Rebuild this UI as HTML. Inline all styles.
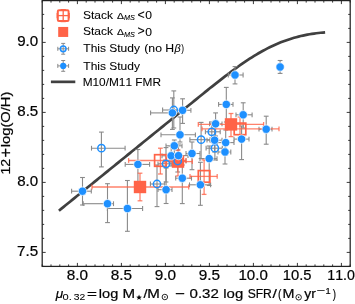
<!DOCTYPE html>
<html><head><meta charset="utf-8"><style>
html,body{margin:0;padding:0;background:#fff;overflow:hidden;}
svg{display:block;will-change:transform;font-family:"Liberation Sans",sans-serif;}
text{font-kerning:none;stroke:#000;stroke-width:0.22px;}
.lg text{stroke-width:0.08px;}
</style></head><body>
<svg width="355" height="304" viewBox="0 0 355 304" font-family="Liberation Sans, sans-serif">
<rect width="355" height="304" fill="#fff"/>
<polyline points="58.92,210.69 61.14,208.89 63.36,207.09 65.57,205.29 67.79,203.49 70.01,201.69 72.23,199.89 74.45,198.09 76.67,196.30 78.89,194.50 81.10,192.70 83.32,190.90 85.54,189.10 87.76,187.30 89.98,185.50 92.19,183.70 94.41,181.90 96.63,180.10 98.85,178.30 101.07,176.50 103.29,174.70 105.51,172.90 107.72,171.10 109.94,169.30 112.16,167.50 114.38,165.70 116.60,163.90 118.82,162.10 121.03,160.30 123.25,158.50 125.47,156.70 127.69,154.90 129.91,153.10 132.12,151.30 134.34,149.50 136.56,147.70 138.78,145.90 141.00,144.10 143.22,142.30 145.44,140.50 147.65,138.70 149.87,136.90 152.09,135.10 154.31,133.30 156.53,131.50 158.74,129.70 160.96,127.90 163.18,126.10 165.40,124.30 167.62,122.50 169.84,120.70 172.06,118.90 174.27,117.10 176.49,115.30 178.71,113.50 180.93,111.70 183.15,109.90 185.36,108.10 187.58,106.30 189.80,104.50 192.02,102.70 194.24,100.90 196.46,99.10 198.68,97.30 200.89,95.50 203.11,93.70 205.33,91.90 207.55,90.10 209.77,88.31 211.98,86.57 214.20,84.83 216.42,83.10 218.64,81.37 220.86,79.63 223.08,77.89 225.29,76.18 227.51,74.47 229.73,72.79 231.95,71.12 234.17,69.47 236.39,67.85 238.61,66.26 240.82,64.69 243.04,63.15 245.26,61.63 247.48,60.15 249.70,58.71 251.92,57.29 254.13,55.91 256.35,54.57 258.57,53.26 260.79,51.99 263.01,50.76 265.23,49.57 267.44,48.42 269.66,47.31 271.88,46.24 274.10,45.21 276.32,44.22 278.53,43.28 280.75,42.37 282.97,41.51 285.19,40.69 287.41,39.90 289.63,39.16 291.85,38.46 294.06,37.80 296.28,37.18 298.50,36.60 300.72,36.06 302.94,35.56 305.15,35.09 307.37,34.66 309.59,34.27 311.81,33.91 314.03,33.58 316.25,33.28 318.47,33.02 320.68,32.78 322.90,32.57 325.12,32.38" fill="none" stroke="#404040" stroke-width="2.7" stroke-linecap="butt" stroke-linejoin="round"/>
<g>
<line x1="71.6" y1="191.2" x2="91.3" y2="191.2" stroke="#8a8a8a" stroke-width="1.1" stroke-opacity="1.0"/>
<line x1="82.5" y1="177.5" x2="82.5" y2="205.0" stroke="#8a8a8a" stroke-width="1.1" stroke-opacity="1.0"/>
<line x1="71.6" y1="188.79999999999998" x2="71.6" y2="193.6" stroke="#8a8a8a" stroke-width="1.1" stroke-opacity="1.0"/>
<line x1="91.3" y1="188.79999999999998" x2="91.3" y2="193.6" stroke="#8a8a8a" stroke-width="1.1" stroke-opacity="1.0"/>
<line x1="80.1" y1="177.5" x2="84.9" y2="177.5" stroke="#8a8a8a" stroke-width="1.1" stroke-opacity="1.0"/>
<line x1="80.1" y1="205.0" x2="84.9" y2="205.0" stroke="#8a8a8a" stroke-width="1.1" stroke-opacity="1.0"/>
<line x1="83.2" y1="203.7" x2="113.5" y2="203.7" stroke="#8a8a8a" stroke-width="1.1" stroke-opacity="1.0"/>
<line x1="107.5" y1="183.7" x2="107.5" y2="222.6" stroke="#8a8a8a" stroke-width="1.1" stroke-opacity="1.0"/>
<line x1="83.2" y1="201.29999999999998" x2="83.2" y2="206.1" stroke="#8a8a8a" stroke-width="1.1" stroke-opacity="1.0"/>
<line x1="113.5" y1="201.29999999999998" x2="113.5" y2="206.1" stroke="#8a8a8a" stroke-width="1.1" stroke-opacity="1.0"/>
<line x1="105.1" y1="183.7" x2="109.9" y2="183.7" stroke="#8a8a8a" stroke-width="1.1" stroke-opacity="1.0"/>
<line x1="105.1" y1="222.6" x2="109.9" y2="222.6" stroke="#8a8a8a" stroke-width="1.1" stroke-opacity="1.0"/>
<line x1="107.4" y1="208.5" x2="142.6" y2="208.5" stroke="#8a8a8a" stroke-width="1.1" stroke-opacity="1.0"/>
<line x1="127.4" y1="180.5" x2="127.4" y2="231.3" stroke="#8a8a8a" stroke-width="1.1" stroke-opacity="1.0"/>
<line x1="107.4" y1="206.1" x2="107.4" y2="210.9" stroke="#8a8a8a" stroke-width="1.1" stroke-opacity="1.0"/>
<line x1="142.6" y1="206.1" x2="142.6" y2="210.9" stroke="#8a8a8a" stroke-width="1.1" stroke-opacity="1.0"/>
<line x1="125.0" y1="180.5" x2="129.8" y2="180.5" stroke="#8a8a8a" stroke-width="1.1" stroke-opacity="1.0"/>
<line x1="125.0" y1="231.3" x2="129.8" y2="231.3" stroke="#8a8a8a" stroke-width="1.1" stroke-opacity="1.0"/>
<line x1="125.2" y1="164.4" x2="149.6" y2="164.4" stroke="#8a8a8a" stroke-width="1.1" stroke-opacity="1.0"/>
<line x1="137.9" y1="149.5" x2="137.9" y2="186.0" stroke="#8a8a8a" stroke-width="1.1" stroke-opacity="1.0"/>
<line x1="125.2" y1="162.0" x2="125.2" y2="166.8" stroke="#8a8a8a" stroke-width="1.1" stroke-opacity="1.0"/>
<line x1="149.6" y1="162.0" x2="149.6" y2="166.8" stroke="#8a8a8a" stroke-width="1.1" stroke-opacity="1.0"/>
<line x1="135.5" y1="149.5" x2="140.3" y2="149.5" stroke="#8a8a8a" stroke-width="1.1" stroke-opacity="1.0"/>
<line x1="135.5" y1="186.0" x2="140.3" y2="186.0" stroke="#8a8a8a" stroke-width="1.1" stroke-opacity="1.0"/>
<line x1="158.0" y1="189.7" x2="172.0" y2="189.7" stroke="#8a8a8a" stroke-width="1.1" stroke-opacity="1.0"/>
<line x1="166.1" y1="168.0" x2="166.1" y2="203.5" stroke="#8a8a8a" stroke-width="1.1" stroke-opacity="1.0"/>
<line x1="158.0" y1="187.29999999999998" x2="158.0" y2="192.1" stroke="#8a8a8a" stroke-width="1.1" stroke-opacity="1.0"/>
<line x1="172.0" y1="187.29999999999998" x2="172.0" y2="192.1" stroke="#8a8a8a" stroke-width="1.1" stroke-opacity="1.0"/>
<line x1="163.7" y1="168.0" x2="168.5" y2="168.0" stroke="#8a8a8a" stroke-width="1.1" stroke-opacity="1.0"/>
<line x1="163.7" y1="203.5" x2="168.5" y2="203.5" stroke="#8a8a8a" stroke-width="1.1" stroke-opacity="1.0"/>
<line x1="166.0" y1="145.8" x2="182.0" y2="145.8" stroke="#8a8a8a" stroke-width="1.1" stroke-opacity="1.0"/>
<line x1="174.3" y1="140.0" x2="174.3" y2="158.0" stroke="#8a8a8a" stroke-width="1.1" stroke-opacity="1.0"/>
<line x1="166.0" y1="143.4" x2="166.0" y2="148.20000000000002" stroke="#8a8a8a" stroke-width="1.1" stroke-opacity="1.0"/>
<line x1="182.0" y1="143.4" x2="182.0" y2="148.20000000000002" stroke="#8a8a8a" stroke-width="1.1" stroke-opacity="1.0"/>
<line x1="171.9" y1="140.0" x2="176.70000000000002" y2="140.0" stroke="#8a8a8a" stroke-width="1.1" stroke-opacity="1.0"/>
<line x1="171.9" y1="158.0" x2="176.70000000000002" y2="158.0" stroke="#8a8a8a" stroke-width="1.1" stroke-opacity="1.0"/>
<line x1="162.0" y1="155.8" x2="180.0" y2="155.8" stroke="#8a8a8a" stroke-width="1.1" stroke-opacity="1.0"/>
<line x1="171.2" y1="146.0" x2="171.2" y2="166.0" stroke="#8a8a8a" stroke-width="1.1" stroke-opacity="1.0"/>
<line x1="162.0" y1="153.4" x2="162.0" y2="158.20000000000002" stroke="#8a8a8a" stroke-width="1.1" stroke-opacity="1.0"/>
<line x1="180.0" y1="153.4" x2="180.0" y2="158.20000000000002" stroke="#8a8a8a" stroke-width="1.1" stroke-opacity="1.0"/>
<line x1="168.79999999999998" y1="146.0" x2="173.6" y2="146.0" stroke="#8a8a8a" stroke-width="1.1" stroke-opacity="1.0"/>
<line x1="168.79999999999998" y1="166.0" x2="173.6" y2="166.0" stroke="#8a8a8a" stroke-width="1.1" stroke-opacity="1.0"/>
<line x1="170.0" y1="155.6" x2="188.0" y2="155.6" stroke="#8a8a8a" stroke-width="1.1" stroke-opacity="1.0"/>
<line x1="178.5" y1="144.0" x2="178.5" y2="166.0" stroke="#8a8a8a" stroke-width="1.1" stroke-opacity="1.0"/>
<line x1="170.0" y1="153.2" x2="170.0" y2="158.0" stroke="#8a8a8a" stroke-width="1.1" stroke-opacity="1.0"/>
<line x1="188.0" y1="153.2" x2="188.0" y2="158.0" stroke="#8a8a8a" stroke-width="1.1" stroke-opacity="1.0"/>
<line x1="176.1" y1="144.0" x2="180.9" y2="144.0" stroke="#8a8a8a" stroke-width="1.1" stroke-opacity="1.0"/>
<line x1="176.1" y1="166.0" x2="180.9" y2="166.0" stroke="#8a8a8a" stroke-width="1.1" stroke-opacity="1.0"/>
<line x1="175.7" y1="178.2" x2="191.5" y2="178.2" stroke="#8a8a8a" stroke-width="1.1" stroke-opacity="1.0"/>
<line x1="182.3" y1="165.0" x2="182.3" y2="203.6" stroke="#8a8a8a" stroke-width="1.1" stroke-opacity="1.0"/>
<line x1="175.7" y1="175.79999999999998" x2="175.7" y2="180.6" stroke="#8a8a8a" stroke-width="1.1" stroke-opacity="1.0"/>
<line x1="191.5" y1="175.79999999999998" x2="191.5" y2="180.6" stroke="#8a8a8a" stroke-width="1.1" stroke-opacity="1.0"/>
<line x1="179.9" y1="165.0" x2="184.70000000000002" y2="165.0" stroke="#8a8a8a" stroke-width="1.1" stroke-opacity="1.0"/>
<line x1="179.9" y1="203.6" x2="184.70000000000002" y2="203.6" stroke="#8a8a8a" stroke-width="1.1" stroke-opacity="1.0"/>
<line x1="150.6" y1="112.9" x2="182.0" y2="112.9" stroke="#8a8a8a" stroke-width="1.1" stroke-opacity="1.0"/>
<line x1="172.4" y1="97.9" x2="172.4" y2="129.4" stroke="#8a8a8a" stroke-width="1.1" stroke-opacity="1.0"/>
<line x1="150.6" y1="110.5" x2="150.6" y2="115.30000000000001" stroke="#8a8a8a" stroke-width="1.1" stroke-opacity="1.0"/>
<line x1="182.0" y1="110.5" x2="182.0" y2="115.30000000000001" stroke="#8a8a8a" stroke-width="1.1" stroke-opacity="1.0"/>
<line x1="170.0" y1="97.9" x2="174.8" y2="97.9" stroke="#8a8a8a" stroke-width="1.1" stroke-opacity="1.0"/>
<line x1="170.0" y1="129.4" x2="174.8" y2="129.4" stroke="#8a8a8a" stroke-width="1.1" stroke-opacity="1.0"/>
<line x1="174.0" y1="110.3" x2="190.9" y2="110.3" stroke="#8a8a8a" stroke-width="1.1" stroke-opacity="1.0"/>
<line x1="182.6" y1="98.8" x2="182.6" y2="123.4" stroke="#8a8a8a" stroke-width="1.1" stroke-opacity="1.0"/>
<line x1="174.0" y1="107.89999999999999" x2="174.0" y2="112.7" stroke="#8a8a8a" stroke-width="1.1" stroke-opacity="1.0"/>
<line x1="190.9" y1="107.89999999999999" x2="190.9" y2="112.7" stroke="#8a8a8a" stroke-width="1.1" stroke-opacity="1.0"/>
<line x1="180.2" y1="98.8" x2="185.0" y2="98.8" stroke="#8a8a8a" stroke-width="1.1" stroke-opacity="1.0"/>
<line x1="180.2" y1="123.4" x2="185.0" y2="123.4" stroke="#8a8a8a" stroke-width="1.1" stroke-opacity="1.0"/>
<line x1="161.0" y1="134.8" x2="195.4" y2="134.8" stroke="#8a8a8a" stroke-width="1.1" stroke-opacity="1.0"/>
<line x1="180.0" y1="117.0" x2="180.0" y2="142.0" stroke="#8a8a8a" stroke-width="1.1" stroke-opacity="1.0"/>
<line x1="161.0" y1="132.4" x2="161.0" y2="137.20000000000002" stroke="#8a8a8a" stroke-width="1.1" stroke-opacity="1.0"/>
<line x1="195.4" y1="132.4" x2="195.4" y2="137.20000000000002" stroke="#8a8a8a" stroke-width="1.1" stroke-opacity="1.0"/>
<line x1="177.6" y1="117.0" x2="182.4" y2="117.0" stroke="#8a8a8a" stroke-width="1.1" stroke-opacity="1.0"/>
<line x1="177.6" y1="142.0" x2="182.4" y2="142.0" stroke="#8a8a8a" stroke-width="1.1" stroke-opacity="1.0"/>
<line x1="218.6" y1="104.4" x2="233.0" y2="104.4" stroke="#8a8a8a" stroke-width="1.1" stroke-opacity="1.0"/>
<line x1="226.3" y1="87.4" x2="226.3" y2="122.0" stroke="#8a8a8a" stroke-width="1.1" stroke-opacity="1.0"/>
<line x1="218.6" y1="102.0" x2="218.6" y2="106.80000000000001" stroke="#8a8a8a" stroke-width="1.1" stroke-opacity="1.0"/>
<line x1="233.0" y1="102.0" x2="233.0" y2="106.80000000000001" stroke="#8a8a8a" stroke-width="1.1" stroke-opacity="1.0"/>
<line x1="223.9" y1="87.4" x2="228.70000000000002" y2="87.4" stroke="#8a8a8a" stroke-width="1.1" stroke-opacity="1.0"/>
<line x1="223.9" y1="122.0" x2="228.70000000000002" y2="122.0" stroke="#8a8a8a" stroke-width="1.1" stroke-opacity="1.0"/>
<line x1="209.6" y1="123.8" x2="222.0" y2="123.8" stroke="#8a8a8a" stroke-width="1.1" stroke-opacity="1.0"/>
<line x1="215.6" y1="112.9" x2="215.6" y2="136.0" stroke="#8a8a8a" stroke-width="1.1" stroke-opacity="1.0"/>
<line x1="209.6" y1="121.39999999999999" x2="209.6" y2="126.2" stroke="#8a8a8a" stroke-width="1.1" stroke-opacity="1.0"/>
<line x1="222.0" y1="121.39999999999999" x2="222.0" y2="126.2" stroke="#8a8a8a" stroke-width="1.1" stroke-opacity="1.0"/>
<line x1="213.2" y1="112.9" x2="218.0" y2="112.9" stroke="#8a8a8a" stroke-width="1.1" stroke-opacity="1.0"/>
<line x1="213.2" y1="136.0" x2="218.0" y2="136.0" stroke="#8a8a8a" stroke-width="1.1" stroke-opacity="1.0"/>
<line x1="228.3" y1="75.0" x2="243.1" y2="75.0" stroke="#8a8a8a" stroke-width="1.1" stroke-opacity="1.0"/>
<line x1="235.0" y1="66.6" x2="235.0" y2="83.9" stroke="#8a8a8a" stroke-width="1.1" stroke-opacity="1.0"/>
<line x1="228.3" y1="72.6" x2="228.3" y2="77.4" stroke="#8a8a8a" stroke-width="1.1" stroke-opacity="1.0"/>
<line x1="243.1" y1="72.6" x2="243.1" y2="77.4" stroke="#8a8a8a" stroke-width="1.1" stroke-opacity="1.0"/>
<line x1="232.6" y1="66.6" x2="237.4" y2="66.6" stroke="#8a8a8a" stroke-width="1.1" stroke-opacity="1.0"/>
<line x1="232.6" y1="83.9" x2="237.4" y2="83.9" stroke="#8a8a8a" stroke-width="1.1" stroke-opacity="1.0"/>
<line x1="278.0" y1="67.0" x2="282.0" y2="67.0" stroke="#8a8a8a" stroke-width="1.1" stroke-opacity="1.0"/>
<line x1="280.1" y1="60.5" x2="280.1" y2="73.4" stroke="#8a8a8a" stroke-width="1.1" stroke-opacity="1.0"/>
<line x1="278.0" y1="64.6" x2="278.0" y2="69.4" stroke="#8a8a8a" stroke-width="1.1" stroke-opacity="1.0"/>
<line x1="282.0" y1="64.6" x2="282.0" y2="69.4" stroke="#8a8a8a" stroke-width="1.1" stroke-opacity="1.0"/>
<line x1="277.70000000000005" y1="60.5" x2="282.5" y2="60.5" stroke="#8a8a8a" stroke-width="1.1" stroke-opacity="1.0"/>
<line x1="277.70000000000005" y1="73.4" x2="282.5" y2="73.4" stroke="#8a8a8a" stroke-width="1.1" stroke-opacity="1.0"/>
<line x1="186.0" y1="153.5" x2="200.0" y2="153.5" stroke="#8a8a8a" stroke-width="1.1" stroke-opacity="1.0"/>
<line x1="192.0" y1="142.0" x2="192.0" y2="169.7" stroke="#8a8a8a" stroke-width="1.1" stroke-opacity="1.0"/>
<line x1="186.0" y1="151.1" x2="186.0" y2="155.9" stroke="#8a8a8a" stroke-width="1.1" stroke-opacity="1.0"/>
<line x1="200.0" y1="151.1" x2="200.0" y2="155.9" stroke="#8a8a8a" stroke-width="1.1" stroke-opacity="1.0"/>
<line x1="189.6" y1="142.0" x2="194.4" y2="142.0" stroke="#8a8a8a" stroke-width="1.1" stroke-opacity="1.0"/>
<line x1="189.6" y1="169.7" x2="194.4" y2="169.7" stroke="#8a8a8a" stroke-width="1.1" stroke-opacity="1.0"/>
<line x1="200.0" y1="158.6" x2="217.0" y2="158.6" stroke="#8a8a8a" stroke-width="1.1" stroke-opacity="1.0"/>
<line x1="209.2" y1="146.0" x2="209.2" y2="185.5" stroke="#8a8a8a" stroke-width="1.1" stroke-opacity="1.0"/>
<line x1="200.0" y1="156.2" x2="200.0" y2="161.0" stroke="#8a8a8a" stroke-width="1.1" stroke-opacity="1.0"/>
<line x1="217.0" y1="156.2" x2="217.0" y2="161.0" stroke="#8a8a8a" stroke-width="1.1" stroke-opacity="1.0"/>
<line x1="206.79999999999998" y1="146.0" x2="211.6" y2="146.0" stroke="#8a8a8a" stroke-width="1.1" stroke-opacity="1.0"/>
<line x1="206.79999999999998" y1="185.5" x2="211.6" y2="185.5" stroke="#8a8a8a" stroke-width="1.1" stroke-opacity="1.0"/>
<line x1="207.0" y1="140.2" x2="222.0" y2="140.2" stroke="#8a8a8a" stroke-width="1.1" stroke-opacity="1.0"/>
<line x1="214.6" y1="128.0" x2="214.6" y2="152.0" stroke="#8a8a8a" stroke-width="1.1" stroke-opacity="1.0"/>
<line x1="207.0" y1="137.79999999999998" x2="207.0" y2="142.6" stroke="#8a8a8a" stroke-width="1.1" stroke-opacity="1.0"/>
<line x1="222.0" y1="137.79999999999998" x2="222.0" y2="142.6" stroke="#8a8a8a" stroke-width="1.1" stroke-opacity="1.0"/>
<line x1="212.2" y1="128.0" x2="217.0" y2="128.0" stroke="#8a8a8a" stroke-width="1.1" stroke-opacity="1.0"/>
<line x1="212.2" y1="152.0" x2="217.0" y2="152.0" stroke="#8a8a8a" stroke-width="1.1" stroke-opacity="1.0"/>
<line x1="217.0" y1="142.6" x2="234.0" y2="142.6" stroke="#8a8a8a" stroke-width="1.1" stroke-opacity="1.0"/>
<line x1="225.7" y1="130.0" x2="225.7" y2="155.0" stroke="#8a8a8a" stroke-width="1.1" stroke-opacity="1.0"/>
<line x1="217.0" y1="140.2" x2="217.0" y2="145.0" stroke="#8a8a8a" stroke-width="1.1" stroke-opacity="1.0"/>
<line x1="234.0" y1="140.2" x2="234.0" y2="145.0" stroke="#8a8a8a" stroke-width="1.1" stroke-opacity="1.0"/>
<line x1="223.29999999999998" y1="130.0" x2="228.1" y2="130.0" stroke="#8a8a8a" stroke-width="1.1" stroke-opacity="1.0"/>
<line x1="223.29999999999998" y1="155.0" x2="228.1" y2="155.0" stroke="#8a8a8a" stroke-width="1.1" stroke-opacity="1.0"/>
<line x1="236.0" y1="114.8" x2="252.1" y2="114.8" stroke="#8a8a8a" stroke-width="1.1" stroke-opacity="1.0"/>
<line x1="243.2" y1="102.8" x2="243.2" y2="128.0" stroke="#8a8a8a" stroke-width="1.1" stroke-opacity="1.0"/>
<line x1="236.0" y1="112.39999999999999" x2="236.0" y2="117.2" stroke="#8a8a8a" stroke-width="1.1" stroke-opacity="1.0"/>
<line x1="252.1" y1="112.39999999999999" x2="252.1" y2="117.2" stroke="#8a8a8a" stroke-width="1.1" stroke-opacity="1.0"/>
<line x1="240.79999999999998" y1="102.8" x2="245.6" y2="102.8" stroke="#8a8a8a" stroke-width="1.1" stroke-opacity="1.0"/>
<line x1="240.79999999999998" y1="128.0" x2="245.6" y2="128.0" stroke="#8a8a8a" stroke-width="1.1" stroke-opacity="1.0"/>
<line x1="259.0" y1="129.2" x2="272.0" y2="129.2" stroke="#8a8a8a" stroke-width="1.1" stroke-opacity="1.0"/>
<line x1="266.2" y1="116.2" x2="266.2" y2="144.2" stroke="#8a8a8a" stroke-width="1.1" stroke-opacity="1.0"/>
<line x1="259.0" y1="126.79999999999998" x2="259.0" y2="131.6" stroke="#8a8a8a" stroke-width="1.1" stroke-opacity="1.0"/>
<line x1="272.0" y1="126.79999999999998" x2="272.0" y2="131.6" stroke="#8a8a8a" stroke-width="1.1" stroke-opacity="1.0"/>
<line x1="263.8" y1="116.2" x2="268.59999999999997" y2="116.2" stroke="#8a8a8a" stroke-width="1.1" stroke-opacity="1.0"/>
<line x1="263.8" y1="144.2" x2="268.59999999999997" y2="144.2" stroke="#8a8a8a" stroke-width="1.1" stroke-opacity="1.0"/>
<line x1="234.0" y1="139.1" x2="249.0" y2="139.1" stroke="#8a8a8a" stroke-width="1.1" stroke-opacity="1.0"/>
<line x1="241.6" y1="126.0" x2="241.6" y2="159.6" stroke="#8a8a8a" stroke-width="1.1" stroke-opacity="1.0"/>
<line x1="234.0" y1="136.7" x2="234.0" y2="141.5" stroke="#8a8a8a" stroke-width="1.1" stroke-opacity="1.0"/>
<line x1="249.0" y1="136.7" x2="249.0" y2="141.5" stroke="#8a8a8a" stroke-width="1.1" stroke-opacity="1.0"/>
<line x1="239.2" y1="126.0" x2="244.0" y2="126.0" stroke="#8a8a8a" stroke-width="1.1" stroke-opacity="1.0"/>
<line x1="239.2" y1="159.6" x2="244.0" y2="159.6" stroke="#8a8a8a" stroke-width="1.1" stroke-opacity="1.0"/>
<line x1="218.0" y1="152.0" x2="230.8" y2="152.0" stroke="#8a8a8a" stroke-width="1.1" stroke-opacity="1.0"/>
<line x1="225.0" y1="142.0" x2="225.0" y2="164.0" stroke="#8a8a8a" stroke-width="1.1" stroke-opacity="1.0"/>
<line x1="218.0" y1="149.6" x2="218.0" y2="154.4" stroke="#8a8a8a" stroke-width="1.1" stroke-opacity="1.0"/>
<line x1="230.8" y1="149.6" x2="230.8" y2="154.4" stroke="#8a8a8a" stroke-width="1.1" stroke-opacity="1.0"/>
<line x1="222.6" y1="142.0" x2="227.4" y2="142.0" stroke="#8a8a8a" stroke-width="1.1" stroke-opacity="1.0"/>
<line x1="222.6" y1="164.0" x2="227.4" y2="164.0" stroke="#8a8a8a" stroke-width="1.1" stroke-opacity="1.0"/>
<line x1="189.5" y1="184.8" x2="210.6" y2="184.8" stroke="#8a8a8a" stroke-width="1.1" stroke-opacity="1.0"/>
<line x1="200.4" y1="162.3" x2="200.4" y2="205.3" stroke="#8a8a8a" stroke-width="1.1" stroke-opacity="1.0"/>
<line x1="189.5" y1="182.4" x2="189.5" y2="187.20000000000002" stroke="#8a8a8a" stroke-width="1.1" stroke-opacity="1.0"/>
<line x1="210.6" y1="182.4" x2="210.6" y2="187.20000000000002" stroke="#8a8a8a" stroke-width="1.1" stroke-opacity="1.0"/>
<line x1="198.0" y1="162.3" x2="202.8" y2="162.3" stroke="#8a8a8a" stroke-width="1.1" stroke-opacity="1.0"/>
<line x1="198.0" y1="205.3" x2="202.8" y2="205.3" stroke="#8a8a8a" stroke-width="1.1" stroke-opacity="1.0"/>
<line x1="91.5" y1="148.2" x2="125.1" y2="148.2" stroke="#8a8a8a" stroke-width="1.1" stroke-opacity="1.0"/>
<line x1="101.4" y1="132.1" x2="101.4" y2="166.9" stroke="#8a8a8a" stroke-width="1.1" stroke-opacity="1.0"/>
<line x1="91.5" y1="145.79999999999998" x2="91.5" y2="150.6" stroke="#8a8a8a" stroke-width="1.1" stroke-opacity="1.0"/>
<line x1="125.1" y1="145.79999999999998" x2="125.1" y2="150.6" stroke="#8a8a8a" stroke-width="1.1" stroke-opacity="1.0"/>
<line x1="99.0" y1="132.1" x2="103.80000000000001" y2="132.1" stroke="#8a8a8a" stroke-width="1.1" stroke-opacity="1.0"/>
<line x1="99.0" y1="166.9" x2="103.80000000000001" y2="166.9" stroke="#8a8a8a" stroke-width="1.1" stroke-opacity="1.0"/>
<line x1="150.4" y1="184.0" x2="164.7" y2="184.0" stroke="#8a8a8a" stroke-width="1.1" stroke-opacity="1.0"/>
<line x1="157.0" y1="165.0" x2="157.0" y2="206.6" stroke="#8a8a8a" stroke-width="1.1" stroke-opacity="1.0"/>
<line x1="150.4" y1="181.6" x2="150.4" y2="186.4" stroke="#8a8a8a" stroke-width="1.1" stroke-opacity="1.0"/>
<line x1="164.7" y1="181.6" x2="164.7" y2="186.4" stroke="#8a8a8a" stroke-width="1.1" stroke-opacity="1.0"/>
<line x1="154.6" y1="165.0" x2="159.4" y2="165.0" stroke="#8a8a8a" stroke-width="1.1" stroke-opacity="1.0"/>
<line x1="154.6" y1="206.6" x2="159.4" y2="206.6" stroke="#8a8a8a" stroke-width="1.1" stroke-opacity="1.0"/>
<line x1="158.0" y1="163.8" x2="174.0" y2="163.8" stroke="#8a8a8a" stroke-width="1.1" stroke-opacity="1.0"/>
<line x1="166.0" y1="147.6" x2="166.0" y2="182.0" stroke="#8a8a8a" stroke-width="1.1" stroke-opacity="1.0"/>
<line x1="158.0" y1="161.4" x2="158.0" y2="166.20000000000002" stroke="#8a8a8a" stroke-width="1.1" stroke-opacity="1.0"/>
<line x1="174.0" y1="161.4" x2="174.0" y2="166.20000000000002" stroke="#8a8a8a" stroke-width="1.1" stroke-opacity="1.0"/>
<line x1="163.6" y1="147.6" x2="168.4" y2="147.6" stroke="#8a8a8a" stroke-width="1.1" stroke-opacity="1.0"/>
<line x1="163.6" y1="182.0" x2="168.4" y2="182.0" stroke="#8a8a8a" stroke-width="1.1" stroke-opacity="1.0"/>
<line x1="170.0" y1="161.0" x2="186.0" y2="161.0" stroke="#8a8a8a" stroke-width="1.1" stroke-opacity="1.0"/>
<line x1="177.7" y1="150.0" x2="177.7" y2="172.0" stroke="#8a8a8a" stroke-width="1.1" stroke-opacity="1.0"/>
<line x1="170.0" y1="158.6" x2="170.0" y2="163.4" stroke="#8a8a8a" stroke-width="1.1" stroke-opacity="1.0"/>
<line x1="186.0" y1="158.6" x2="186.0" y2="163.4" stroke="#8a8a8a" stroke-width="1.1" stroke-opacity="1.0"/>
<line x1="175.29999999999998" y1="150.0" x2="180.1" y2="150.0" stroke="#8a8a8a" stroke-width="1.1" stroke-opacity="1.0"/>
<line x1="175.29999999999998" y1="172.0" x2="180.1" y2="172.0" stroke="#8a8a8a" stroke-width="1.1" stroke-opacity="1.0"/>
<line x1="162.6" y1="110.0" x2="182.0" y2="110.0" stroke="#8a8a8a" stroke-width="1.1" stroke-opacity="1.0"/>
<line x1="173.8" y1="90.9" x2="173.8" y2="128.0" stroke="#8a8a8a" stroke-width="1.1" stroke-opacity="1.0"/>
<line x1="162.6" y1="107.6" x2="162.6" y2="112.4" stroke="#8a8a8a" stroke-width="1.1" stroke-opacity="1.0"/>
<line x1="182.0" y1="107.6" x2="182.0" y2="112.4" stroke="#8a8a8a" stroke-width="1.1" stroke-opacity="1.0"/>
<line x1="171.4" y1="90.9" x2="176.20000000000002" y2="90.9" stroke="#8a8a8a" stroke-width="1.1" stroke-opacity="1.0"/>
<line x1="171.4" y1="128.0" x2="176.20000000000002" y2="128.0" stroke="#8a8a8a" stroke-width="1.1" stroke-opacity="1.0"/>
<line x1="205.4" y1="131.8" x2="220.2" y2="131.8" stroke="#8a8a8a" stroke-width="1.1" stroke-opacity="1.0"/>
<line x1="211.8" y1="122.0" x2="211.8" y2="142.0" stroke="#8a8a8a" stroke-width="1.1" stroke-opacity="1.0"/>
<line x1="205.4" y1="129.4" x2="205.4" y2="134.20000000000002" stroke="#8a8a8a" stroke-width="1.1" stroke-opacity="1.0"/>
<line x1="220.2" y1="129.4" x2="220.2" y2="134.20000000000002" stroke="#8a8a8a" stroke-width="1.1" stroke-opacity="1.0"/>
<line x1="209.4" y1="122.0" x2="214.20000000000002" y2="122.0" stroke="#8a8a8a" stroke-width="1.1" stroke-opacity="1.0"/>
<line x1="209.4" y1="142.0" x2="214.20000000000002" y2="142.0" stroke="#8a8a8a" stroke-width="1.1" stroke-opacity="1.0"/>
<line x1="189.9" y1="139.7" x2="210.0" y2="139.7" stroke="#8a8a8a" stroke-width="1.1" stroke-opacity="1.0"/>
<line x1="201.1" y1="122.4" x2="201.1" y2="158.6" stroke="#8a8a8a" stroke-width="1.1" stroke-opacity="1.0"/>
<line x1="189.9" y1="137.29999999999998" x2="189.9" y2="142.1" stroke="#8a8a8a" stroke-width="1.1" stroke-opacity="1.0"/>
<line x1="210.0" y1="137.29999999999998" x2="210.0" y2="142.1" stroke="#8a8a8a" stroke-width="1.1" stroke-opacity="1.0"/>
<line x1="198.7" y1="122.4" x2="203.5" y2="122.4" stroke="#8a8a8a" stroke-width="1.1" stroke-opacity="1.0"/>
<line x1="198.7" y1="158.6" x2="203.5" y2="158.6" stroke="#8a8a8a" stroke-width="1.1" stroke-opacity="1.0"/>
<line x1="206.1" y1="148.2" x2="222.3" y2="148.2" stroke="#8a8a8a" stroke-width="1.1" stroke-opacity="1.0"/>
<line x1="214.9" y1="138.0" x2="214.9" y2="160.0" stroke="#8a8a8a" stroke-width="1.1" stroke-opacity="1.0"/>
<line x1="206.1" y1="145.79999999999998" x2="206.1" y2="150.6" stroke="#8a8a8a" stroke-width="1.1" stroke-opacity="1.0"/>
<line x1="222.3" y1="145.79999999999998" x2="222.3" y2="150.6" stroke="#8a8a8a" stroke-width="1.1" stroke-opacity="1.0"/>
<line x1="212.5" y1="138.0" x2="217.3" y2="138.0" stroke="#8a8a8a" stroke-width="1.1" stroke-opacity="1.0"/>
<line x1="212.5" y1="160.0" x2="217.3" y2="160.0" stroke="#8a8a8a" stroke-width="1.1" stroke-opacity="1.0"/>
<line x1="128.6" y1="160.5" x2="186.0" y2="160.5" stroke="#ff6347" stroke-width="1.3" stroke-opacity="0.8"/>
<line x1="160.4" y1="148.2" x2="160.4" y2="174.0" stroke="#ff6347" stroke-width="1.3" stroke-opacity="0.8"/>
<line x1="128.6" y1="158.1" x2="128.6" y2="162.9" stroke="#ff6347" stroke-width="1.3" stroke-opacity="0.8"/>
<line x1="186.0" y1="158.1" x2="186.0" y2="162.9" stroke="#ff6347" stroke-width="1.3" stroke-opacity="0.8"/>
<line x1="158.0" y1="148.2" x2="162.8" y2="148.2" stroke="#ff6347" stroke-width="1.3" stroke-opacity="0.8"/>
<line x1="158.0" y1="174.0" x2="162.8" y2="174.0" stroke="#ff6347" stroke-width="1.3" stroke-opacity="0.8"/>
<line x1="190.0" y1="176.4" x2="217.2" y2="176.4" stroke="#ff6347" stroke-width="1.3" stroke-opacity="0.8"/>
<line x1="204.1" y1="159.9" x2="204.1" y2="194.4" stroke="#ff6347" stroke-width="1.3" stroke-opacity="0.8"/>
<line x1="190.0" y1="174.0" x2="190.0" y2="178.8" stroke="#ff6347" stroke-width="1.3" stroke-opacity="0.8"/>
<line x1="217.2" y1="174.0" x2="217.2" y2="178.8" stroke="#ff6347" stroke-width="1.3" stroke-opacity="0.8"/>
<line x1="201.7" y1="159.9" x2="206.5" y2="159.9" stroke="#ff6347" stroke-width="1.3" stroke-opacity="0.8"/>
<line x1="201.7" y1="194.4" x2="206.5" y2="194.4" stroke="#ff6347" stroke-width="1.3" stroke-opacity="0.8"/>
<line x1="202.0" y1="128.9" x2="279.0" y2="128.9" stroke="#ff6347" stroke-width="1.3" stroke-opacity="0.8"/>
<line x1="240.0" y1="117.0" x2="240.0" y2="138.0" stroke="#ff6347" stroke-width="1.3" stroke-opacity="0.8"/>
<line x1="202.0" y1="126.5" x2="202.0" y2="131.3" stroke="#ff6347" stroke-width="1.3" stroke-opacity="0.8"/>
<line x1="279.0" y1="126.5" x2="279.0" y2="131.3" stroke="#ff6347" stroke-width="1.3" stroke-opacity="0.8"/>
<line x1="237.6" y1="117.0" x2="242.4" y2="117.0" stroke="#ff6347" stroke-width="1.3" stroke-opacity="0.8"/>
<line x1="237.6" y1="138.0" x2="242.4" y2="138.0" stroke="#ff6347" stroke-width="1.3" stroke-opacity="0.8"/>
<line x1="164.0" y1="161.6" x2="192.3" y2="161.6" stroke="#ff6347" stroke-width="1.3" stroke-opacity="0.8"/>
<line x1="178.0" y1="150.0" x2="178.0" y2="176.0" stroke="#ff6347" stroke-width="1.3" stroke-opacity="0.8"/>
<line x1="164.0" y1="159.2" x2="164.0" y2="164.0" stroke="#ff6347" stroke-width="1.3" stroke-opacity="0.8"/>
<line x1="192.3" y1="159.2" x2="192.3" y2="164.0" stroke="#ff6347" stroke-width="1.3" stroke-opacity="0.8"/>
<line x1="175.6" y1="150.0" x2="180.4" y2="150.0" stroke="#ff6347" stroke-width="1.3" stroke-opacity="0.8"/>
<line x1="175.6" y1="176.0" x2="180.4" y2="176.0" stroke="#ff6347" stroke-width="1.3" stroke-opacity="0.8"/>
<line x1="92.0" y1="187.0" x2="188.7" y2="187.0" stroke="#ff6347" stroke-width="1.3" stroke-opacity="0.8"/>
<line x1="140.0" y1="173.2" x2="140.0" y2="200.8" stroke="#ff6347" stroke-width="1.3" stroke-opacity="0.8"/>
<line x1="92.0" y1="184.6" x2="92.0" y2="189.4" stroke="#ff6347" stroke-width="1.3" stroke-opacity="0.8"/>
<line x1="188.7" y1="184.6" x2="188.7" y2="189.4" stroke="#ff6347" stroke-width="1.3" stroke-opacity="0.8"/>
<line x1="137.6" y1="173.2" x2="142.4" y2="173.2" stroke="#ff6347" stroke-width="1.3" stroke-opacity="0.8"/>
<line x1="137.6" y1="200.8" x2="142.4" y2="200.8" stroke="#ff6347" stroke-width="1.3" stroke-opacity="0.8"/>
<line x1="198.3" y1="124.4" x2="263.6" y2="124.4" stroke="#ff6347" stroke-width="1.3" stroke-opacity="0.8"/>
<line x1="231.0" y1="113.5" x2="231.0" y2="136.6" stroke="#ff6347" stroke-width="1.3" stroke-opacity="0.8"/>
<line x1="198.3" y1="122.0" x2="198.3" y2="126.80000000000001" stroke="#ff6347" stroke-width="1.3" stroke-opacity="0.8"/>
<line x1="263.6" y1="122.0" x2="263.6" y2="126.80000000000001" stroke="#ff6347" stroke-width="1.3" stroke-opacity="0.8"/>
<line x1="228.6" y1="113.5" x2="233.4" y2="113.5" stroke="#ff6347" stroke-width="1.3" stroke-opacity="0.8"/>
<line x1="228.6" y1="136.6" x2="233.4" y2="136.6" stroke="#ff6347" stroke-width="1.3" stroke-opacity="0.8"/>
<rect x="154.6" y="154.7" width="11.6" height="11.6" fill="none" stroke="#ff6347" stroke-width="1.7"/>
<rect x="198.29999999999998" y="170.6" width="11.6" height="11.6" fill="none" stroke="#ff6347" stroke-width="1.7"/>
<rect x="234.2" y="123.10000000000001" width="11.6" height="11.6" fill="none" stroke="#ff6347" stroke-width="1.7"/>
<rect x="171.8" y="155.4" width="12.4" height="12.4" fill="#ff6347"/>
<rect x="133.8" y="180.8" width="12.4" height="12.4" fill="#ff6347"/>
<rect x="224.8" y="118.2" width="12.4" height="12.4" fill="#ff6347"/>
<circle cx="101.4" cy="148.2" r="3.65" fill="none" stroke="#1e90ff" stroke-width="1.5"/>
<circle cx="157.0" cy="184.0" r="3.65" fill="none" stroke="#1e90ff" stroke-width="1.5"/>
<circle cx="166.0" cy="163.8" r="3.65" fill="none" stroke="#1e90ff" stroke-width="1.5"/>
<circle cx="177.7" cy="161.0" r="3.65" fill="none" stroke="#1e90ff" stroke-width="1.5"/>
<circle cx="173.8" cy="110.0" r="3.65" fill="none" stroke="#1e90ff" stroke-width="1.5"/>
<circle cx="211.8" cy="131.8" r="3.65" fill="none" stroke="#1e90ff" stroke-width="1.5"/>
<circle cx="201.1" cy="139.7" r="3.65" fill="none" stroke="#1e90ff" stroke-width="1.5"/>
<circle cx="214.9" cy="148.2" r="3.65" fill="none" stroke="#1e90ff" stroke-width="1.5"/>
<circle cx="82.5" cy="191.2" r="4.2" fill="#1e90ff" stroke="#fff" stroke-width="0.7"/>
<circle cx="107.5" cy="203.7" r="4.2" fill="#1e90ff" stroke="#fff" stroke-width="0.7"/>
<circle cx="127.4" cy="208.5" r="4.2" fill="#1e90ff" stroke="#fff" stroke-width="0.7"/>
<circle cx="137.9" cy="164.4" r="4.2" fill="#1e90ff" stroke="#fff" stroke-width="0.7"/>
<circle cx="166.1" cy="189.7" r="4.2" fill="#1e90ff" stroke="#fff" stroke-width="0.7"/>
<circle cx="174.3" cy="145.8" r="4.2" fill="#1e90ff" stroke="#fff" stroke-width="0.7"/>
<circle cx="171.2" cy="155.8" r="4.2" fill="#1e90ff" stroke="#fff" stroke-width="0.7"/>
<circle cx="178.5" cy="155.6" r="4.2" fill="#1e90ff" stroke="#fff" stroke-width="0.7"/>
<circle cx="182.3" cy="178.2" r="4.2" fill="#1e90ff" stroke="#fff" stroke-width="0.7"/>
<circle cx="172.4" cy="112.9" r="4.2" fill="#1e90ff" stroke="#fff" stroke-width="0.7"/>
<circle cx="182.6" cy="110.3" r="4.2" fill="#1e90ff" stroke="#fff" stroke-width="0.7"/>
<circle cx="180.0" cy="134.8" r="4.2" fill="#1e90ff" stroke="#fff" stroke-width="0.7"/>
<circle cx="226.3" cy="104.4" r="4.2" fill="#1e90ff" stroke="#fff" stroke-width="0.7"/>
<circle cx="215.6" cy="123.8" r="4.2" fill="#1e90ff" stroke="#fff" stroke-width="0.7"/>
<circle cx="235.0" cy="75.0" r="4.2" fill="#1e90ff" stroke="#fff" stroke-width="0.7"/>
<circle cx="280.1" cy="67.0" r="4.2" fill="#1e90ff" stroke="#fff" stroke-width="0.7"/>
<circle cx="192.0" cy="153.5" r="4.2" fill="#1e90ff" stroke="#fff" stroke-width="0.7"/>
<circle cx="209.2" cy="158.6" r="4.2" fill="#1e90ff" stroke="#fff" stroke-width="0.7"/>
<circle cx="214.6" cy="140.2" r="4.2" fill="#1e90ff" stroke="#fff" stroke-width="0.7"/>
<circle cx="225.7" cy="142.6" r="4.2" fill="#1e90ff" stroke="#fff" stroke-width="0.7"/>
<circle cx="243.2" cy="114.8" r="4.2" fill="#1e90ff" stroke="#fff" stroke-width="0.7"/>
<circle cx="266.2" cy="129.2" r="4.2" fill="#1e90ff" stroke="#fff" stroke-width="0.7"/>
<circle cx="241.6" cy="139.1" r="4.2" fill="#1e90ff" stroke="#fff" stroke-width="0.7"/>
<circle cx="225.0" cy="152.0" r="4.2" fill="#1e90ff" stroke="#fff" stroke-width="0.7"/>
<circle cx="200.4" cy="184.8" r="4.2" fill="#1e90ff" stroke="#fff" stroke-width="0.7"/>
</g>
<g stroke="#222" stroke-width="0.9">
<line x1="42.20" y1="266.4" x2="42.20" y2="264.4"/>
<line x1="42.20" y1="0.6" x2="42.20" y2="2.6"/>
<line x1="51.00" y1="266.4" x2="51.00" y2="264.4"/>
<line x1="51.00" y1="0.6" x2="51.00" y2="2.6"/>
<line x1="59.80" y1="266.4" x2="59.80" y2="264.4"/>
<line x1="59.80" y1="0.6" x2="59.80" y2="2.6"/>
<line x1="68.60" y1="266.4" x2="68.60" y2="264.4"/>
<line x1="68.60" y1="0.6" x2="68.60" y2="2.6"/>
<line x1="77.40" y1="266.4" x2="77.40" y2="262.9"/>
<line x1="77.40" y1="0.6" x2="77.40" y2="4.1"/>
<line x1="86.20" y1="266.4" x2="86.20" y2="264.4"/>
<line x1="86.20" y1="0.6" x2="86.20" y2="2.6"/>
<line x1="95.00" y1="266.4" x2="95.00" y2="264.4"/>
<line x1="95.00" y1="0.6" x2="95.00" y2="2.6"/>
<line x1="103.80" y1="266.4" x2="103.80" y2="264.4"/>
<line x1="103.80" y1="0.6" x2="103.80" y2="2.6"/>
<line x1="112.60" y1="266.4" x2="112.60" y2="264.4"/>
<line x1="112.60" y1="0.6" x2="112.60" y2="2.6"/>
<line x1="121.40" y1="266.4" x2="121.40" y2="262.9"/>
<line x1="121.40" y1="0.6" x2="121.40" y2="4.1"/>
<line x1="130.20" y1="266.4" x2="130.20" y2="264.4"/>
<line x1="130.20" y1="0.6" x2="130.20" y2="2.6"/>
<line x1="139.00" y1="266.4" x2="139.00" y2="264.4"/>
<line x1="139.00" y1="0.6" x2="139.00" y2="2.6"/>
<line x1="147.80" y1="266.4" x2="147.80" y2="264.4"/>
<line x1="147.80" y1="0.6" x2="147.80" y2="2.6"/>
<line x1="156.60" y1="266.4" x2="156.60" y2="264.4"/>
<line x1="156.60" y1="0.6" x2="156.60" y2="2.6"/>
<line x1="165.40" y1="266.4" x2="165.40" y2="262.9"/>
<line x1="165.40" y1="0.6" x2="165.40" y2="4.1"/>
<line x1="174.20" y1="266.4" x2="174.20" y2="264.4"/>
<line x1="174.20" y1="0.6" x2="174.20" y2="2.6"/>
<line x1="183.00" y1="266.4" x2="183.00" y2="264.4"/>
<line x1="183.00" y1="0.6" x2="183.00" y2="2.6"/>
<line x1="191.80" y1="266.4" x2="191.80" y2="264.4"/>
<line x1="191.80" y1="0.6" x2="191.80" y2="2.6"/>
<line x1="200.60" y1="266.4" x2="200.60" y2="264.4"/>
<line x1="200.60" y1="0.6" x2="200.60" y2="2.6"/>
<line x1="209.40" y1="266.4" x2="209.40" y2="262.9"/>
<line x1="209.40" y1="0.6" x2="209.40" y2="4.1"/>
<line x1="218.20" y1="266.4" x2="218.20" y2="264.4"/>
<line x1="218.20" y1="0.6" x2="218.20" y2="2.6"/>
<line x1="227.00" y1="266.4" x2="227.00" y2="264.4"/>
<line x1="227.00" y1="0.6" x2="227.00" y2="2.6"/>
<line x1="235.80" y1="266.4" x2="235.80" y2="264.4"/>
<line x1="235.80" y1="0.6" x2="235.80" y2="2.6"/>
<line x1="244.60" y1="266.4" x2="244.60" y2="264.4"/>
<line x1="244.60" y1="0.6" x2="244.60" y2="2.6"/>
<line x1="253.40" y1="266.4" x2="253.40" y2="262.9"/>
<line x1="253.40" y1="0.6" x2="253.40" y2="4.1"/>
<line x1="262.20" y1="266.4" x2="262.20" y2="264.4"/>
<line x1="262.20" y1="0.6" x2="262.20" y2="2.6"/>
<line x1="271.00" y1="266.4" x2="271.00" y2="264.4"/>
<line x1="271.00" y1="0.6" x2="271.00" y2="2.6"/>
<line x1="279.80" y1="266.4" x2="279.80" y2="264.4"/>
<line x1="279.80" y1="0.6" x2="279.80" y2="2.6"/>
<line x1="288.60" y1="266.4" x2="288.60" y2="264.4"/>
<line x1="288.60" y1="0.6" x2="288.60" y2="2.6"/>
<line x1="297.40" y1="266.4" x2="297.40" y2="262.9"/>
<line x1="297.40" y1="0.6" x2="297.40" y2="4.1"/>
<line x1="306.20" y1="266.4" x2="306.20" y2="264.4"/>
<line x1="306.20" y1="0.6" x2="306.20" y2="2.6"/>
<line x1="315.00" y1="266.4" x2="315.00" y2="264.4"/>
<line x1="315.00" y1="0.6" x2="315.00" y2="2.6"/>
<line x1="323.80" y1="266.4" x2="323.80" y2="264.4"/>
<line x1="323.80" y1="0.6" x2="323.80" y2="2.6"/>
<line x1="332.60" y1="266.4" x2="332.60" y2="264.4"/>
<line x1="332.60" y1="0.6" x2="332.60" y2="2.6"/>
<line x1="341.40" y1="266.4" x2="341.40" y2="262.9"/>
<line x1="341.40" y1="0.6" x2="341.40" y2="4.1"/>
<line x1="350.20" y1="266.4" x2="350.20" y2="264.4"/>
<line x1="350.20" y1="0.6" x2="350.20" y2="2.6"/>
<line x1="42.2" y1="266.40" x2="44.2" y2="266.40"/>
<line x1="350.2" y1="266.40" x2="348.2" y2="266.40"/>
<line x1="42.2" y1="252.40" x2="45.7" y2="252.40"/>
<line x1="350.2" y1="252.40" x2="346.7" y2="252.40"/>
<line x1="42.2" y1="238.40" x2="44.2" y2="238.40"/>
<line x1="350.2" y1="238.40" x2="348.2" y2="238.40"/>
<line x1="42.2" y1="224.40" x2="44.2" y2="224.40"/>
<line x1="350.2" y1="224.40" x2="348.2" y2="224.40"/>
<line x1="42.2" y1="210.40" x2="44.2" y2="210.40"/>
<line x1="350.2" y1="210.40" x2="348.2" y2="210.40"/>
<line x1="42.2" y1="196.40" x2="44.2" y2="196.40"/>
<line x1="350.2" y1="196.40" x2="348.2" y2="196.40"/>
<line x1="42.2" y1="182.40" x2="45.7" y2="182.40"/>
<line x1="350.2" y1="182.40" x2="346.7" y2="182.40"/>
<line x1="42.2" y1="168.40" x2="44.2" y2="168.40"/>
<line x1="350.2" y1="168.40" x2="348.2" y2="168.40"/>
<line x1="42.2" y1="154.40" x2="44.2" y2="154.40"/>
<line x1="350.2" y1="154.40" x2="348.2" y2="154.40"/>
<line x1="42.2" y1="140.40" x2="44.2" y2="140.40"/>
<line x1="350.2" y1="140.40" x2="348.2" y2="140.40"/>
<line x1="42.2" y1="126.40" x2="44.2" y2="126.40"/>
<line x1="350.2" y1="126.40" x2="348.2" y2="126.40"/>
<line x1="42.2" y1="112.40" x2="45.7" y2="112.40"/>
<line x1="350.2" y1="112.40" x2="346.7" y2="112.40"/>
<line x1="42.2" y1="98.40" x2="44.2" y2="98.40"/>
<line x1="350.2" y1="98.40" x2="348.2" y2="98.40"/>
<line x1="42.2" y1="84.40" x2="44.2" y2="84.40"/>
<line x1="350.2" y1="84.40" x2="348.2" y2="84.40"/>
<line x1="42.2" y1="70.40" x2="44.2" y2="70.40"/>
<line x1="350.2" y1="70.40" x2="348.2" y2="70.40"/>
<line x1="42.2" y1="56.40" x2="44.2" y2="56.40"/>
<line x1="350.2" y1="56.40" x2="348.2" y2="56.40"/>
<line x1="42.2" y1="42.40" x2="45.7" y2="42.40"/>
<line x1="350.2" y1="42.40" x2="346.7" y2="42.40"/>
<line x1="42.2" y1="28.40" x2="44.2" y2="28.40"/>
<line x1="350.2" y1="28.40" x2="348.2" y2="28.40"/>
<line x1="42.2" y1="14.40" x2="44.2" y2="14.40"/>
<line x1="350.2" y1="14.40" x2="348.2" y2="14.40"/>
<line x1="42.2" y1="0.40" x2="44.2" y2="0.40"/>
<line x1="350.2" y1="0.40" x2="348.2" y2="0.40"/>
</g>
<rect x="42.2" y="0.6" width="308.0" height="265.79999999999995" fill="none" stroke="#222" stroke-width="1.25"/>
<g fill="#000" opacity="0.995">
<text transform="translate(17.12,256.35) scale(1.0850,1)" font-size="14.0">7.5</text>
<text transform="translate(17.25,186.35) scale(1.0761,1)" font-size="14.0">8.0</text>
<text transform="translate(17.24,116.35) scale(1.0785,1)" font-size="14.0">8.5</text>
<text transform="translate(17.19,46.35) scale(1.0789,1)" font-size="14.0">9.0</text>
<text transform="translate(66.74,279.80) scale(1.0925,1)" font-size="14.0">8.0</text>
<text transform="translate(110.73,279.80) scale(1.0950,1)" font-size="14.0">8.5</text>
<text transform="translate(154.68,279.80) scale(1.0954,1)" font-size="14.0">9.0</text>
<text transform="translate(198.68,279.80) scale(1.0978,1)" font-size="14.0">9.5</text>
<text transform="translate(238.45,279.80) scale(1.0767,1)" font-size="14.0">10.0</text>
<text transform="translate(282.77,279.80) scale(1.0549,1)" font-size="14.0">10.5</text>
<text transform="translate(327.32,279.80) scale(1.0142,1)" font-size="14.0">11.0</text>
<g transform="translate(9.8,0) rotate(-90)"><text transform="translate(-174.47,0.00) scale(1.0292,1)" font-size="13.7">12</text><text transform="translate(-157.59,1.45) scale(1.0163,1)" font-size="16">+</text><text transform="translate(-147.19,0.00) scale(1.0742,1)" font-size="13.7">log(O/H)</text></g>
<text transform="translate(55.68,298.10) scale(1.0126,1)" font-size="13.4" font-style="italic">μ</text>
<text transform="translate(62.57,300.10) scale(1.2050,1)" font-size="9.2" style="stroke-width:0.08px">0.</text>
<text transform="translate(73.81,300.10) scale(1.1253,1)" font-size="9.2" style="stroke-width:0.08px">32</text>
<text transform="translate(86.97,298.10) scale(1.2749,1)" font-size="13.4">=</text>
<text transform="translate(98.82,298.10) scale(1.0859,1)" font-size="13.4">log</text>
<text transform="translate(122.56,298.10) scale(1.1267,1)" font-size="13.4">M</text>
<text transform="translate(143.60,298.10) scale(1.0744,1)" font-size="13.4">/</text>
<text transform="translate(147.26,298.10) scale(1.1267,1)" font-size="13.4">M</text>
<text transform="translate(175.18,298.10) scale(1.2442,1)" font-size="13.4">−</text>
<text transform="translate(189.51,298.10) scale(1.1253,1)" font-size="13.4">0.32</text>
<text transform="translate(223.29,298.10) scale(1.1169,1)" font-size="13.4">log</text>
<text transform="translate(247.65,298.10) scale(0.9034,1)" font-size="13.4">SFR</text>
<text transform="translate(272.60,298.10) scale(1.1819,1)" font-size="13.4">/</text>
<text transform="translate(277.95,298.10) scale(0.7881,1)" font-size="13.4">(</text>
<text transform="translate(282.42,298.10) scale(1.0710,1)" font-size="13.4">M</text>
<text transform="translate(304.37,298.10) scale(1.0452,1)" font-size="13.4">yr</text>
<text transform="translate(332.74,298.10) scale(0.7318,1)" font-size="13.4">)</text>
<text transform="translate(316.79,293.60) scale(1.5008,1)" font-size="9.6">−</text>
<text transform="translate(325.49,293.60) scale(0.9664,1)" font-size="9.6">1</text>
<polygon points="139.05,294.60 139.79,296.58 141.90,296.67 140.25,297.99 140.81,300.03 139.05,298.86 137.29,300.03 137.85,297.99 136.20,296.67 138.31,296.58" fill="#000"/>
<circle cx="164.85" cy="297.0" r="2.75" fill="none" stroke="#000" stroke-width="0.85"/><circle cx="164.85" cy="297.0" r="0.75" fill="#000"/>
<circle cx="298.65" cy="297.3" r="2.75" fill="none" stroke="#000" stroke-width="0.85"/><circle cx="298.65" cy="297.3" r="0.75" fill="#000"/>
</g>
<g fill="#000">
<rect x="57.800000000000004" y="10.2" width="10.8" height="10.8" rx="1.2" fill="none" stroke="#ff6347" stroke-width="2"/>
<line x1="57.7" y1="15.6" x2="68.7" y2="15.6" stroke="#ff6347" stroke-width="1.3"/>
<line x1="63.2" y1="10.1" x2="63.2" y2="21.1" stroke="#ff6347" stroke-width="1.3"/>
<line x1="57.2" y1="13.0" x2="57.2" y2="18.2" stroke="#ff6347" stroke-width="1.2"/>
<line x1="60.6" y1="9.6" x2="65.8" y2="9.6" stroke="#ff6347" stroke-width="1.2"/>
<line x1="69.2" y1="13.0" x2="69.2" y2="18.2" stroke="#ff6347" stroke-width="1.2"/>
<line x1="60.6" y1="21.6" x2="65.8" y2="21.6" stroke="#ff6347" stroke-width="1.2"/>
<rect x="58.2" y="26.95" width="10" height="10" fill="#ff6347"/>
<line x1="57.800000000000004" y1="48.8" x2="68.60000000000001" y2="48.8" stroke="#8a8a8a" stroke-width="1.0" stroke-opacity="1.0"/>
<line x1="63.2" y1="43.4" x2="63.2" y2="54.199999999999996" stroke="#8a8a8a" stroke-width="1.0" stroke-opacity="1.0"/>
<line x1="57.800000000000004" y1="46.8" x2="57.800000000000004" y2="50.8" stroke="#8a8a8a" stroke-width="1.0" stroke-opacity="1.0"/>
<line x1="68.60000000000001" y1="46.8" x2="68.60000000000001" y2="50.8" stroke="#8a8a8a" stroke-width="1.0" stroke-opacity="1.0"/>
<line x1="61.2" y1="43.4" x2="65.2" y2="43.4" stroke="#8a8a8a" stroke-width="1.0" stroke-opacity="1.0"/>
<line x1="61.2" y1="54.199999999999996" x2="65.2" y2="54.199999999999996" stroke="#8a8a8a" stroke-width="1.0" stroke-opacity="1.0"/>
<circle cx="63.2" cy="48.8" r="2.85" fill="none" stroke="#1e90ff" stroke-width="1.5"/>
<line x1="57.800000000000004" y1="65.9" x2="68.60000000000001" y2="65.9" stroke="#8a8a8a" stroke-width="1.0" stroke-opacity="1.0"/>
<line x1="63.2" y1="60.50000000000001" x2="63.2" y2="71.30000000000001" stroke="#8a8a8a" stroke-width="1.0" stroke-opacity="1.0"/>
<line x1="57.800000000000004" y1="63.900000000000006" x2="57.800000000000004" y2="67.9" stroke="#8a8a8a" stroke-width="1.0" stroke-opacity="1.0"/>
<line x1="68.60000000000001" y1="63.900000000000006" x2="68.60000000000001" y2="67.9" stroke="#8a8a8a" stroke-width="1.0" stroke-opacity="1.0"/>
<line x1="61.2" y1="60.50000000000001" x2="65.2" y2="60.50000000000001" stroke="#8a8a8a" stroke-width="1.0" stroke-opacity="1.0"/>
<line x1="61.2" y1="71.30000000000001" x2="65.2" y2="71.30000000000001" stroke="#8a8a8a" stroke-width="1.0" stroke-opacity="1.0"/>
<circle cx="63.2" cy="65.9" r="3.1" fill="#1e90ff"/>
<line x1="50.9" y1="81.85000000000001" x2="75.3" y2="81.85000000000001" stroke="#404040" stroke-width="2.7"/>
</g>
<g fill="#000" opacity="0.995" class="lg">
<text transform="translate(82.95,18.60) scale(1.0532,1)" font-size="11.4">Stack</text>
<text transform="translate(117.09,18.50) scale(1.0468,1)" font-size="9.9">Δ</text>
<text transform="translate(123.98,19.80) scale(1.0094,1)" font-size="7.2" font-style="italic">MS</text>
<text transform="translate(137.39,18.50) scale(0.9801,1)" font-size="12.6">&lt;</text>
<text transform="translate(145.33,18.80) scale(1.0643,1)" font-size="11.4">0</text>
<text transform="translate(82.95,35.30) scale(1.0532,1)" font-size="11.4">Stack</text>
<text transform="translate(117.09,35.20) scale(1.0468,1)" font-size="9.9">Δ</text>
<text transform="translate(123.98,36.50) scale(1.0094,1)" font-size="7.2" font-style="italic">MS</text>
<text transform="translate(137.39,35.20) scale(0.9801,1)" font-size="12.6">&gt;</text>
<text transform="translate(145.33,35.50) scale(1.0643,1)" font-size="11.4">0</text>
<text transform="translate(83.33,52.20) scale(1.0527,1)" font-size="11.4">This Study</text>
<text transform="translate(144.24,52.20) scale(1.0747,1)" font-size="11.4">(no H</text>
<text transform="translate(174.56,52.20) scale(0.9520,1)" font-size="11.4" font-style="italic">β</text>
<text transform="translate(181.35,52.20) scale(0.7279,1)" font-size="11.4">)</text>
<text transform="translate(83.33,69.60) scale(1.0527,1)" font-size="11.4">This Study</text>
<text transform="translate(82.63,86.10) scale(1.0404,1)" font-size="11.4">M10/M11 FMR</text>
</g>
</svg>
</body></html>
